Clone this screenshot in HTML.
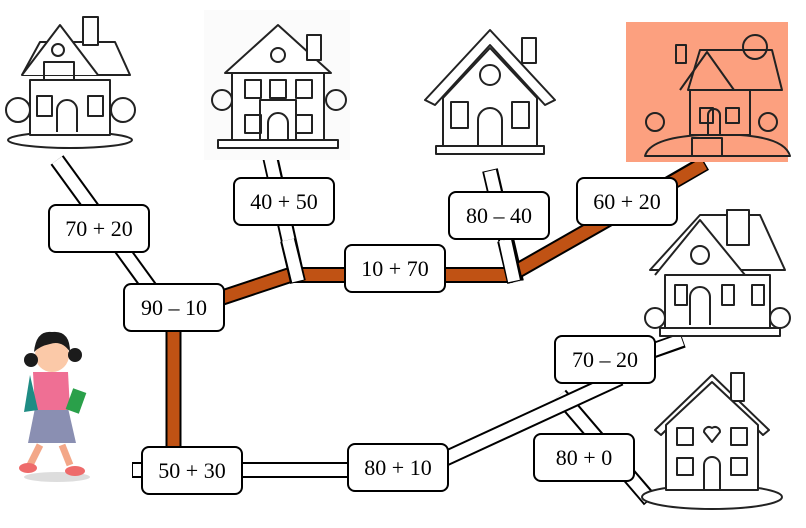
<!DOCTYPE html>
<html><head><meta charset="utf-8"><style>
html,body{margin:0;padding:0;background:#fff}
.wrap{position:relative;width:806px;height:528px;overflow:hidden}
.box{position:absolute;width:98px;height:45px;border:2px solid #000;border-radius:8px;background:#fff;
font-family:"Liberation Serif",serif;font-size:22px;line-height:45px;text-align:center;color:#000;box-sizing:content-box}
svg{position:absolute;left:0;top:0}
</style></head><body><div class="wrap">
<svg width="806" height="528" viewBox="0 0 806 528">
<g stroke-linecap="butt">
<!-- 80+0 road first (under diagonal) -->
<line x1="560" y1="395" x2="650" y2="500" stroke="#000" stroke-width="16"/>
<line x1="560" y1="395" x2="649" y2="499" stroke="#fff" stroke-width="12"/>
<g stroke="#000" stroke-width="16">
<line x1="57" y1="160" x2="150" y2="288"/>
<line x1="270" y1="156" x2="298" y2="282"/>
<line x1="490" y1="170" x2="516" y2="282"/>
<line x1="132" y1="470" x2="360" y2="470"/>
<line x1="440" y1="461" x2="620" y2="378"/>
<line x1="640" y1="355" x2="683" y2="340"/>
</g>
<g stroke="#fff" stroke-width="12">
<line x1="57" y1="160" x2="150" y2="288"/>
<line x1="270" y1="157" x2="298" y2="282"/>
<line x1="490" y1="171" x2="516" y2="282"/>
<line x1="133" y1="470" x2="360" y2="470"/>
<line x1="440" y1="461" x2="620" y2="378"/>
<line x1="640" y1="355" x2="682" y2="340"/>
</g>
<g stroke="#000" stroke-width="16" fill="none" stroke-linejoin="miter">
<line x1="173.5" y1="320" x2="173.5" y2="450"/>
<polyline points="215,300 290,275 510,275 610,218 705,163"/>
</g>
<g stroke="#c05214" stroke-width="12" fill="none" stroke-linejoin="miter">
<line x1="173.5" y1="320" x2="173.5" y2="450"/>
<polyline points="215,300 290,275 510,275 610,218 704,164"/>
</g>
<line x1="288" y1="240" x2="298" y2="282" stroke="#000" stroke-width="16"/>
<line x1="288" y1="240" x2="298" y2="281" stroke="#fff" stroke-width="12"/>
<line x1="505" y1="240" x2="515" y2="282" stroke="#000" stroke-width="16"/>
<line x1="505" y1="240" x2="514" y2="281" stroke="#fff" stroke-width="12"/>
</g>

<rect x="626" y="22" width="162" height="140" fill="#fca07f"/>
<rect x="204" y="10" width="146" height="150" fill="#fbfbfb"/>

<g fill="none" stroke="#222" stroke-width="2" stroke-linejoin="round">
<ellipse cx="70" cy="140" rx="62" ry="8" fill="#fff"/>
<path d="M22 75 L40 42 L115 42 L130 75 Z" fill="#fff"/>
<path d="M22 75 L60 25 L98 75" fill="#fff"/>
<rect x="30" y="80" width="80" height="55" fill="#fff"/>
<rect x="83" y="17" width="15" height="28" fill="#fff"/>
<rect x="44" y="62" width="30" height="18"/>
<circle cx="58" cy="50" r="6"/>
<path d="M57 132 v-22 a10 10 0 0 1 20 0 v22"/>
<rect x="37" y="96" width="15" height="20"/><rect x="88" y="96" width="15" height="20"/>
<circle cx="18" cy="110" r="12"/><circle cx="123" cy="110" r="12"/>
<path d="M225 73 L278 25 L331 73 Z" fill="#fff"/>
<rect x="307" y="35" width="14" height="25" fill="#fff"/>
<rect x="232" y="73" width="92" height="70" fill="#fff"/>
<circle cx="278" cy="55" r="7"/>
<rect x="245" y="80" width="16" height="18"/><rect x="270" y="80" width="16" height="18"/><rect x="296" y="80" width="16" height="18"/>
<rect x="245" y="115" width="16" height="18"/><rect x="296" y="115" width="16" height="18"/>
<rect x="260" y="100" width="36" height="45"/>
<path d="M268 143 v-20 a10 10 0 0 1 20 0 v20"/>
<circle cx="222" cy="100" r="10"/><circle cx="336" cy="100" r="10"/>
<rect x="218" y="140" width="120" height="8" fill="#fff"/>
<path d="M425 100 L490 30 L555 100 L545 105 L490 45 L435 105 Z" fill="#fff"/>
<rect x="522" y="38" width="14" height="25" fill="#fff"/>
<path d="M443 98 L490 48 L537 98 L537 148 L443 148 Z" fill="#fff"/>
<circle cx="490" cy="75" r="10"/>
<rect x="451" y="102" width="17" height="26"/><rect x="512" y="102" width="17" height="26"/>
<path d="M478 148 v-28 a12 12 0 0 1 24 0 v28"/>
<rect x="436" y="146" width="108" height="8" fill="#fff"/>
<path d="M688 90 L700 50 L772 50 L782 90 Z"/>
<path d="M680 90 L707 52 L734 90"/>
<rect x="676" y="45" width="10" height="18"/>
<rect x="690" y="90" width="60" height="45"/>
<rect x="700" y="108" width="13" height="15"/><rect x="726" y="108" width="13" height="15"/>
<path d="M708 135 v-20 a6 6 0 0 1 12 0 v20"/>
<circle cx="755" cy="47" r="12"/>
<path d="M645 156 Q650 138 700 135 L740 135 Q785 138 790 156 Z"/>
<rect x="692" y="138" width="30" height="18"/>
<circle cx="655" cy="122" r="9"/><circle cx="768" cy="122" r="9"/>
<path d="M650 270 L700 215 L760 215 L785 270 Z" fill="#fff"/>
<path d="M655 275 L700 220 L745 275" fill="#fff"/>
<rect x="727" y="210" width="22" height="35" fill="#fff"/>
<rect x="665" y="275" width="105" height="55" fill="#fff"/>
<circle cx="700" cy="255" r="9"/>
<rect x="675" y="285" width="12" height="20"/><rect x="722" y="285" width="12" height="20"/><rect x="752" y="285" width="12" height="20"/>
<path d="M690 325 v-28 a10 10 0 0 1 20 0 v28"/>
<circle cx="655" cy="318" r="10"/><circle cx="780" cy="318" r="10"/>
<rect x="660" y="328" width="120" height="8" fill="#fff"/>
<ellipse cx="712" cy="497" rx="70" ry="12" fill="#fff"/>
<path d="M655 430 L712 375 L769 430 L763 435 L712 385 L661 435 Z" fill="#fff"/>
<rect x="731" y="373" width="13" height="28" fill="#fff"/>
<path d="M666 425 L712 382 L758 425 L758 490 L666 490 Z" fill="#fff"/>
<rect x="677" y="428" width="16" height="17"/><rect x="731" y="428" width="16" height="17"/>
<rect x="677" y="458" width="16" height="17"/><rect x="731" y="458" width="16" height="17"/>
<path d="M704 432 a5 5 0 0 1 8 -4 a5 5 0 0 1 8 4 l-8 10 z"/>
<path d="M704 490 v-25 a8 8 0 0 1 16 0 v25"/>
</g>

<g>
<ellipse cx="57" cy="477" rx="33" ry="5" fill="#ddd"/>
<path d="M40 445 L30 465" stroke="#f3a788" stroke-width="7"/>
<path d="M62 445 L70 465" stroke="#f3a788" stroke-width="7"/>
<ellipse cx="28" cy="468" rx="9" ry="5" fill="#ee6b6b"/>
<ellipse cx="75" cy="471" rx="10" ry="5" fill="#ee6b6b"/>
<path d="M35 408 L68 408 L76 443 L28 443 Z" fill="#8a8fb2"/>
<path d="M33 372 L68 372 L70 410 L35 410 Z" fill="#ef6f94"/>
<path d="M30 375 L24 412 L38 410 Z" fill="#1f8c84"/>
<rect x="69" y="390" width="14" height="22" fill="#2aa04a" transform="rotate(20 76 401)"/>
<circle cx="52" cy="355" r="17" fill="#fbc9a8"/>
<path d="M34 352 Q36 330 52 332 Q70 330 70 352 Q62 340 50 344 Q40 346 34 352 Z" fill="#1b1b1b"/>
<circle cx="31" cy="360" r="7" fill="#1b1b1b"/><circle cx="75" cy="355" r="7" fill="#1b1b1b"/>
</g>
</svg>

<div class="box" style="left:48px;top:204px">70 + 20</div>
<div class="box" style="left:233px;top:177px">40 + 50</div>
<div class="box" style="left:123px;top:283px">90 – 10</div>
<div class="box" style="left:344px;top:244px">10 + 70</div>
<div class="box" style="left:448px;top:191px">80 – 40</div>
<div class="box" style="left:576px;top:177px">60 + 20</div>
<div class="box" style="left:554px;top:335px">70 – 20</div>
<div class="box" style="left:533px;top:433px">80 + 0</div>
<div class="box" style="left:141px;top:446px">50 + 30</div>
<div class="box" style="left:347px;top:443px">80 + 10</div>
</div></body></html>
